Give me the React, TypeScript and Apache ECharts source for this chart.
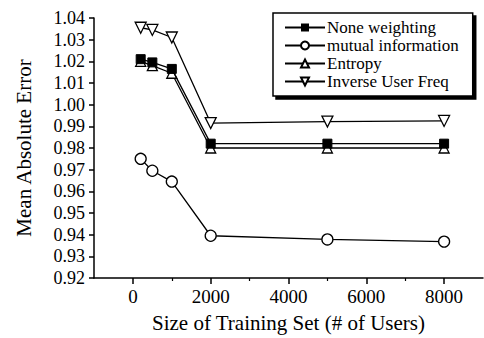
import React, { useEffect, useRef } from "react";
import * as echarts from "echarts";

const xValues = [200, 500, 1000, 2000, 5000, 8000];
const noneWeighting = [1.021, 1.0195, 1.0165, 0.982, 0.982, 0.982];
const mutualInfo = [0.975, 0.9695, 0.9645, 0.9395, 0.9378, 0.9368];
const entropy = [1.02, 1.018, 1.0145, 0.98, 0.98, 0.98];
const inverseUserFreq = [1.0355, 1.0345, 1.031, 0.9915, 0.9922, 0.9925];
const xMajorTicks = [0, 2000, 4000, 6000, 8000];
const xMinorTicks = [1000, 3000, 5000, 7000];
const seriesNames = ["None weighting", "mutual information", "Entropy", "Inverse User Freq"];

const FONT = "Liberation Serif";

function pairs(ys: number[]) {
  return xValues.map((x, i) => [x, ys[i]]);
}

export default function App() {
  const ref = useRef<HTMLDivElement>(null);
  useEffect(() => {
    if (!ref.current) return;
    const chart = echarts.init(ref.current, null, { renderer: "svg" });
    const lineStyle = { color: "#000", width: 1.3 };
    chart.setOption({
      animation: false,
      backgroundColor: "#fff",
      textStyle: { fontFamily: FONT, color: "#000" },
      grid: { left: 94, top: 18, right: 1, bottom: 57, containLabel: false },
      legend: {
        orient: "vertical",
        left: 273,
        top: 13,
        padding: [6, 14, 6, 11],
        itemGap: 1,
        itemWidth: 40,
        itemHeight: 10,
        backgroundColor: "#fff",
        borderColor: "#000",
        borderWidth: 1.5,
        shadowColor: "#000",
        shadowBlur: 0,
        shadowOffsetX: 3,
        shadowOffsetY: 3,
        textStyle: { fontFamily: FONT, fontSize: 17, color: "#000", lineHeight: 17, padding: [0, 0, 0, -3] },
        data: seriesNames,
      },
      xAxis: [
        {
          type: "value",
          min: -1000,
          max: 9000,
          splitLine: { show: false },
          axisLine: { onZero: false, lineStyle: { color: "#000", width: 1.5 } },
          axisTick: { customValues: xMajorTicks, length: 6, lineStyle: { color: "#000", width: 1.5 } },
          axisLabel: {
            customValues: xMajorTicks,
            fontFamily: FONT,
            fontSize: 19,
            color: "#000",
            margin: 9,
            formatter: (v: number) => String(v),
          },
          name: "Size of Training Set (# of Users)",
          nameLocation: "middle",
          nameGap: 34,
          nameTextStyle: { fontFamily: FONT, fontSize: 21, color: "#000" },
        },
        {
          type: "value",
          min: -1000,
          max: 9000,
          position: "bottom",
          splitLine: { show: false },
          axisLine: { show: false, onZero: false },
          axisTick: { customValues: xMinorTicks, length: 3, lineStyle: { color: "#000", width: 1.2 } },
          axisLabel: { show: false },
        },
      ],
      yAxis: {
        type: "value",
        min: 0.92,
        max: 1.04,
        interval: 0.01,
        splitLine: { show: false },
        axisLine: { show: true, onZero: false, lineStyle: { color: "#000", width: 1.5 } },
        axisTick: { show: true, length: 5, lineStyle: { color: "#000", width: 1.5 } },
        axisLabel: {
          fontFamily: FONT,
          fontSize: 18,
          color: "#000",
          margin: 9,
          formatter: (v: number) => v.toFixed(2),
        },
        name: "Mean Absolute Error",
        nameLocation: "middle",
        nameGap: 60,
        nameTextStyle: { fontFamily: FONT, fontSize: 21, color: "#000" },
      },
      series: [
        {
          name: seriesNames[0],
          type: "line",
          data: pairs(noneWeighting),
          symbol: "rect",
          symbolSize: 9,
          lineStyle,
          itemStyle: { color: "#000", borderColor: "#000" },
          z: 4,
        },
        {
          name: seriesNames[1],
          type: "line",
          data: pairs(mutualInfo),
          symbol: "circle",
          symbolSize: 11,
          lineStyle,
          itemStyle: { color: "#fff", borderColor: "#000", borderWidth: 1.3 },
          z: 3,
        },
        {
          name: seriesNames[2],
          type: "line",
          data: pairs(entropy),
          symbol: "triangle",
          symbolSize: 10,
          lineStyle,
          itemStyle: { color: "#fff", borderColor: "#000", borderWidth: 1.3 },
          z: 3,
        },
        {
          name: seriesNames[3],
          type: "line",
          data: pairs(inverseUserFreq),
          symbol: "triangle",
          symbolRotate: 180,
          symbolSize: 11,
          lineStyle,
          itemStyle: { color: "#fff", borderColor: "#000", borderWidth: 1.3 },
          z: 3,
        },
      ],
    });
    return () => chart.dispose();
  }, []);
  return (
    <div
      ref={ref}
      style={{ position: "fixed", left: 0, top: 0, width: 484, height: 338 }}
    />
  );
}
